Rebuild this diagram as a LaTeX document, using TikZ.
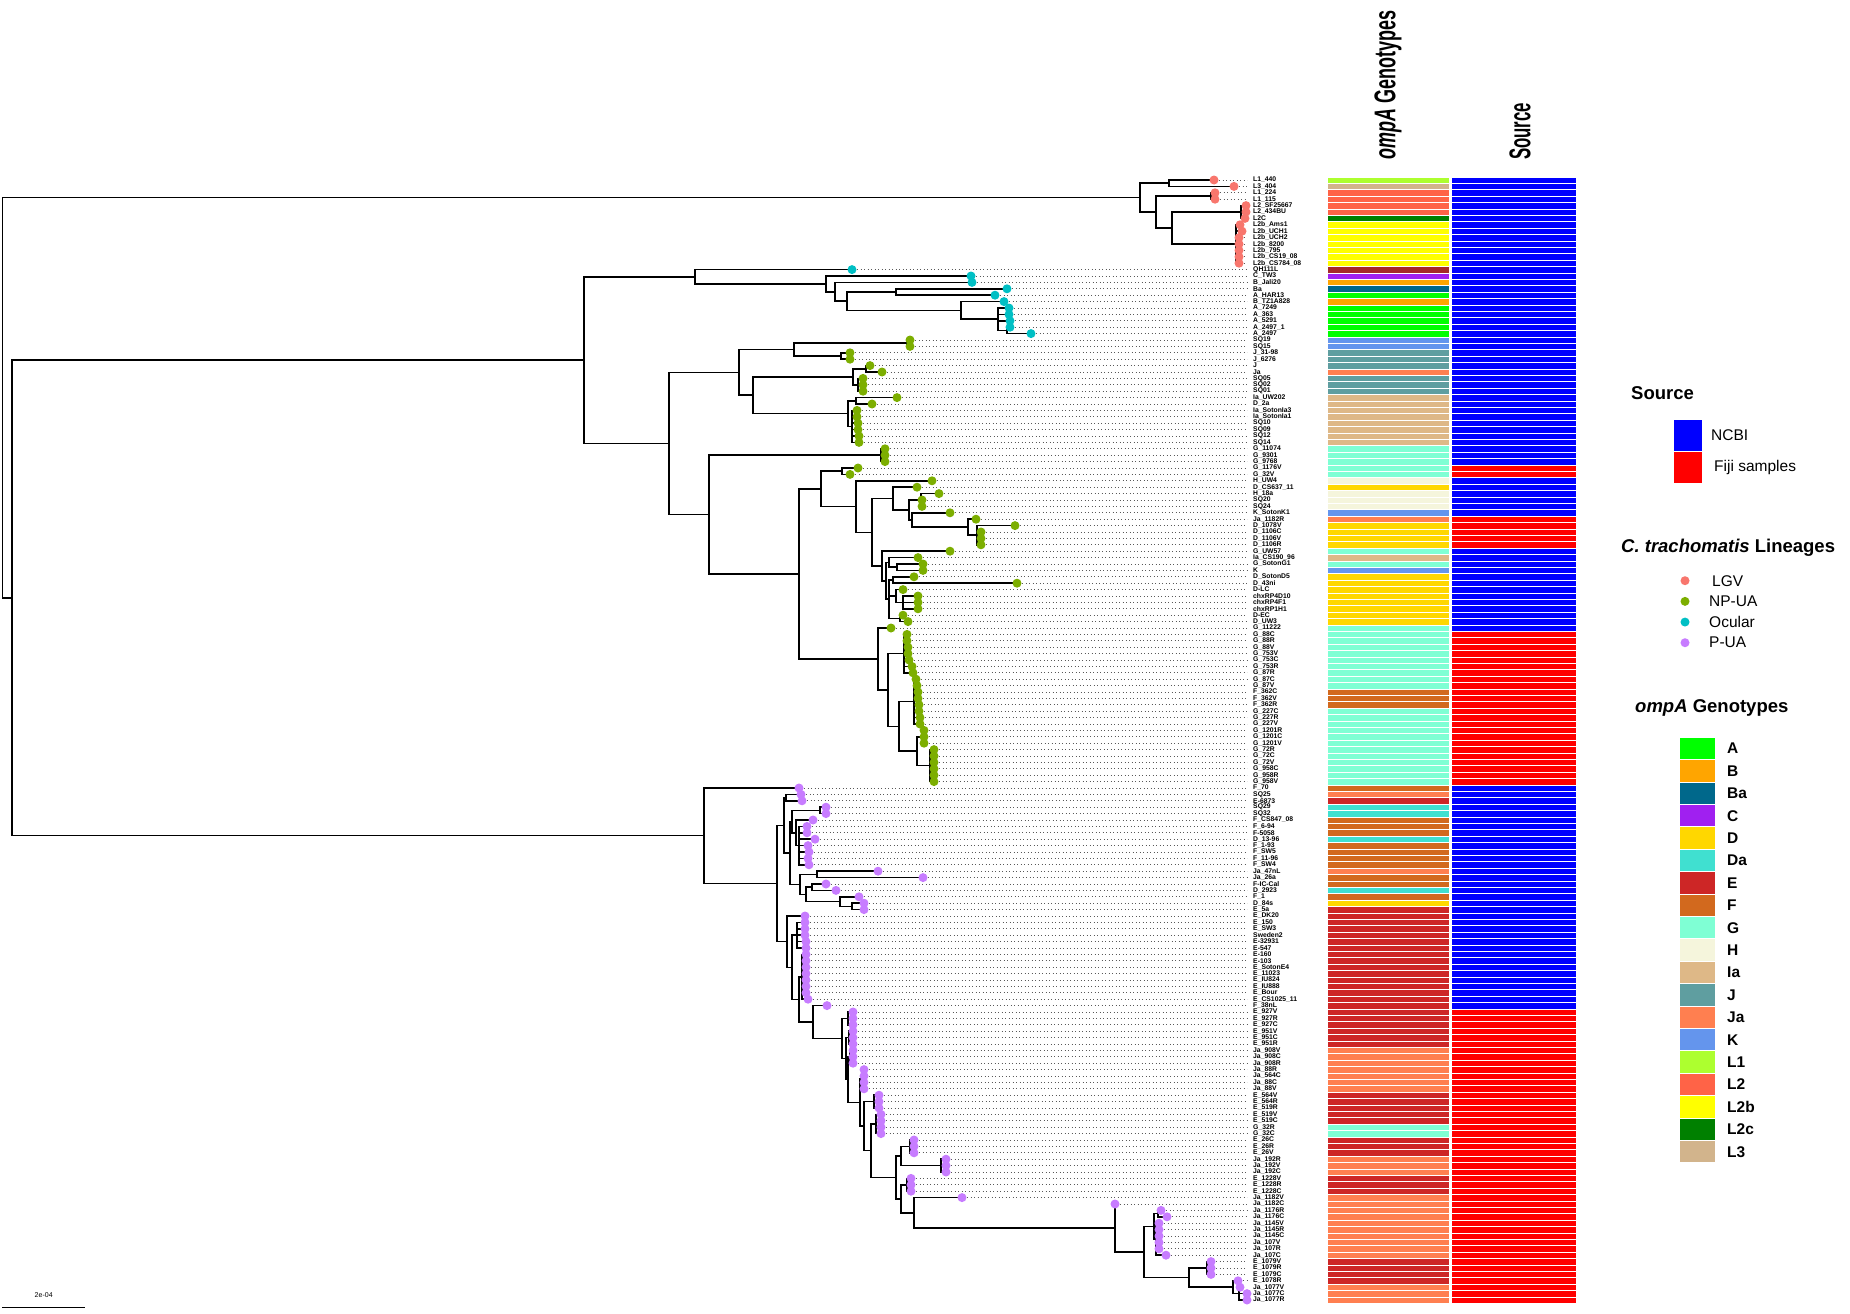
\documentclass[tikz,border=0pt]{standalone}
\usepackage{fontspec}
\setmainfont{Liberation Sans}
\usetikzlibrary{calc}

% ompA genotype colours
\definecolor{gA}{RGB}{0,255,0}
\definecolor{gB}{RGB}{255,165,0}
\definecolor{gBa}{RGB}{0,104,139}
\definecolor{gC}{RGB}{160,32,240}
\definecolor{gD}{RGB}{255,215,0}
\definecolor{gDa}{RGB}{64,224,208}
\definecolor{gE}{RGB}{205,38,38}
\definecolor{gF}{RGB}{210,105,30}
\definecolor{gG}{RGB}{127,255,212}
\definecolor{gH}{RGB}{245,245,220}
\definecolor{gIa}{RGB}{222,184,135}
\definecolor{gJ}{RGB}{95,158,160}
\definecolor{gJa}{RGB}{255,127,80}
\definecolor{gK}{RGB}{100,149,237}
\definecolor{gLone}{RGB}{173,255,47}
\definecolor{gLtwo}{RGB}{255,99,71}
\definecolor{gLtwob}{RGB}{255,255,0}
\definecolor{gLtwoc}{RGB}{0,128,0}
\definecolor{gLthree}{RGB}{210,180,140}
\definecolor{gQ}{RGB}{165,42,42}
% source and lineage colours
\definecolor{srcN}{RGB}{0,0,255}
\definecolor{srcF}{RGB}{255,0,0}
\definecolor{cLGV}{RGB}{248,118,109}
\definecolor{cNP}{RGB}{124,174,0}
\definecolor{cOcu}{RGB}{0,191,196}
\definecolor{cPUA}{RGB}{199,124,255}

\tikzset{
  branch/.style={line width=1.5pt, line cap=rect},
  tipdots/.style={black!65, line width=0.9pt, dash pattern=on 0.9pt off 2.6pt},
  tiplab/.style={inner sep=0pt, anchor=west, font=\fontsize{6.8}{7}\selectfont\bfseries},
  cell/.style={draw=white, line width=0.4pt},
  ttl/.style={inner sep=0pt, anchor=west, font=\fontsize{18.5}{20}\selectfont\bfseries},
  legtxt/.style={inner sep=0pt, anchor=west, font=\fontsize{15.5}{17}\selectfont},
  legbold/.style={inner sep=0pt, anchor=west, font=\fontsize{15.5}{17}\selectfont\bfseries},
  hdr/.style={inner sep=0pt, anchor=west, rotate=90, font=\fontsize{30}{30}\selectfont\bfseries},
}

% clade: name, x, first child, last child
\newcommand\clade[4]{%
  \path ($(#3)!0.5!(#4)$) coordinate (#1mid) (#2,0) coordinate (#1xx);
  \coordinate (#1) at (#1mid -| #1xx);
  \draw[branch] (#3 -| #1) -- (#4 -| #1);
  \draw[branch] (#1 |- #3) -- (#3);
  \draw[branch] (#1 |- #4) -- (#4);
}
% extra child in between
\newcommand\twig[2]{\draw[branch] (#1 |- #2) -- (#2);}

\begin{document}
\begin{tikzpicture}[x=1pt,y=-1pt]
\useasboundingbox (0,0) rectangle (1850,1314);

% tips, labels, heatmap
\foreach \i/\x/\lab/\g/\s in {
1/1214/L1\_440/Lone/N, 2/1234/L3\_404/Lthree/N, 3/1215/L1\_224/Ltwo/N, 4/1215/L1\_115/Ltwo/N,
5/1246/L2\_SF25667/Ltwo/N, 6/1246/L2\_434BU/Ltwo/N, 7/1245/L2C/Ltwoc/N, 8/1240/L2b\_Ams1/Ltwob/N,
9/1242/L2b\_UCH1/Ltwob/N, 10/1239/L2b\_UCH2/Ltwob/N, 11/1239/L2b\_8200/Ltwob/N, 12/1239/L2b\_795/Ltwob/N,
13/1239/L2b\_CS19\_08/Ltwob/N, 14/1239/L2b\_CS784\_08/Ltwob/N, 15/852/QH111L/Q/N, 16/971/C\_TW3/C/N,
17/972/B\_Jali20/B/N, 18/1007/Ba/Ba/N, 19/995/A\_HAR13/A/N, 20/1004/B\_TZ1A828/B/N,
21/1009/A\_7249/A/N, 22/1009/A\_363/A/N, 23/1010/A\_5291/A/N, 24/1010/A\_2497\_1/A/N,
25/1031/A\_2497/A/N, 26/910/SQ19/K/N, 27/910/SQ15/K/N, 28/850/J\_31-98/J/N,
29/850/J\_6276/J/N, 30/870/J/J/N, 31/882/Ja/Ja/N, 32/863/SQ05/J/N,
33/863/SQ02/J/N, 34/863/SQ01/J/N, 35/897/Ia\_UW202/Ia/N, 36/872/D\_2a/Ia/N,
37/857/Ia\_SotonIa3/Ia/N, 38/857/Ia\_SotonIa1/Ia/N, 39/858/SQ10/Ia/N, 40/858/SQ09/Ia/N,
41/859/SQ12/Ia/N, 42/859/SQ14/Ia/N, 43/885/G\_11074/G/N, 44/885/G\_9301/G/N,
45/885/G\_9768/G/N, 46/858/G\_1176V/G/F, 47/850/G\_32V/G/F, 48/932/H\_UW4/H/N,
49/917/D\_CS637\_11/D/N, 50/939/H\_18a/H/N, 51/922/SQ20/H/N, 52/922/SQ24/H/N,
53/950/K\_SotonK1/K/N, 54/976/Ja\_1182R/Ja/F, 55/1015/D\_1078V/D/F, 56/981/D\_1106C/D/F,
57/981/D\_1106V/D/F, 58/981/D\_1106R/D/F, 59/950/G\_UW57/G/N, 60/918/Ia\_CS190\_96/Ia/N,
61/923/G\_SotonG1/G/N, 62/923/K/K/N, 63/914/D\_SotonD5/D/N, 64/1017/D\_43ni/D/N,
65/903/D-LC/D/N, 66/918/chxRP4D10/D/N, 67/918/chxRP4F1/D/N, 68/918/chxRP1H1/D/N,
69/903/D-EC/D/N, 70/908/D\_UW3/D/N, 71/891/G\_11222/G/N, 72/907/G\_88C/G/F,
73/907/G\_88R/G/F, 74/908/G\_88V/G/F, 75/908/G\_753V/G/F, 76/909/G\_753C/G/F,
77/912/G\_753R/G/F, 78/913/G\_87R/G/F, 79/916/G\_87C/G/F, 80/917/G\_87V/G/F,
81/918/F\_362C/F/F, 82/918/F\_362V/F/F, 83/919/F\_362R/F/F, 84/919/G\_227C/G/F,
85/920/G\_227R/G/F, 86/920/G\_227V/G/F, 87/924/G\_1201R/G/F, 88/924/G\_1201C/G/F,
89/924/G\_1201V/G/F, 90/934/G\_72R/G/F, 91/934/G\_72C/G/F, 92/934/G\_72V/G/F,
93/934/G\_958C/G/F, 94/934/G\_958R/G/F, 95/934/G\_958V/G/F, 96/799/F\_70/F/N,
97/801/SQ25/Ja/N, 98/802/E-6873/E/N, 99/826/SQ29/Da/N, 100/826/SQ32/Da/N,
101/813/F\_CS847\_08/F/N, 102/807/F\_6-94/F/N, 103/807/F-5058/F/N, 104/815/D\_13-96/Da/N,
105/808/F\_1-93/F/N, 106/809/F\_SW5/F/N, 107/808/F\_11-96/F/N, 108/809/F\_SW4/F/N,
109/878/Ja\_47nL/Ja/N, 110/923/Ja\_26a/F/N, 111/826/F-IC-Cal/F/N, 112/836/D\_2923/Da/N,
113/859/F\_1/F/N, 114/864/D\_84s/D/N, 115/864/E\_5a/E/N, 116/805/E\_DK20/E/N,
117/805/E\_150/E/N, 118/805/E\_SW3/E/N, 119/805/Sweden2/E/N, 120/806/E-32931/E/N,
121/806/E-547/E/N, 122/806/E-160/E/N, 123/806/E-103/E/N, 124/806/E\_SotonE4/E/N,
125/806/E\_11023/E/N, 126/806/E\_IU824/E/N, 127/806/E\_IU888/E/N, 128/806/E\_Bour/E/N,
129/808/E\_CS1025\_11/E/N, 130/827/F\_38nL/E/N, 131/853/E\_927V/E/F, 132/853/E\_927R/E/F,
133/853/E\_927C/E/F, 134/853/E\_951V/E/F, 135/853/E\_951C/E/F, 136/853/E\_951R/E/F,
137/853/Ja\_908V/Ja/F, 138/853/Ja\_908C/Ja/F, 139/853/Ja\_908R/Ja/F, 140/864/Ja\_88R/Ja/F,
141/864/Ja\_564C/Ja/F, 142/864/Ja\_88C/Ja/F, 143/864/Ja\_88V/Ja/F, 144/879/E\_564V/E/F,
145/879/E\_564R/E/F, 146/879/E\_519R/E/F, 147/881/E\_519V/E/F, 148/881/E\_519C/E/F,
149/881/G\_32R/G/F, 150/881/G\_32C/G/F, 151/914/E\_26C/E/F, 152/914/E\_26R/E/F,
153/914/E\_26V/E/F, 154/946/Ja\_192R/Ja/F, 155/946/Ja\_192V/Ja/F, 156/946/Ja\_192C/Ja/F,
157/911/E\_1228V/E/F, 158/911/E\_1228R/E/F, 159/911/E\_1228C/E/F, 160/962/Ja\_1182V/Ja/F,
161/1115/Ja\_1182C/Ja/F, 162/1161/Ja\_1176R/Ja/F, 163/1167/Ja\_1176C/Ja/F, 164/1159/Ja\_1145V/Ja/F,
165/1159/Ja\_1145R/Ja/F, 166/1159/Ja\_1145C/Ja/F, 167/1159/Ja\_107V/Ja/F, 168/1159/Ja\_107R/Ja/F,
169/1166/Ja\_107C/Ja/F, 170/1211/E\_1079V/E/F, 171/1211/E\_1079R/E/F, 172/1211/E\_1079C/E/F,
173/1238/E\_1078R/E/F, 174/1240/Ja\_1077V/Ja/F, 175/1247/Ja\_1077C/Ja/F, 176/1247/Ja\_1077R/Ja/F}{
  \pgfmathsetmacro\yy{180+(\i-1)*6.4}
  \pgfmathsetmacro\ya{\yy-3.2}
  \pgfmathsetmacro\yb{\yy+3.2}
  \coordinate (t\i) at (\x,\yy);
  \ifnum\x<1240 \draw[tipdots] ({\x+5},\yy) -- (1247,\yy); \fi
  \node[tiplab] (lab\i) at (1253,\yy) {\lab};
  \path[cell, fill=g\g] (1327,\ya) rectangle (1449.5,\yb);
  \path[cell, fill=src\s] (1451.5,\ya) rectangle (1576,\yb);
}

% LGV
\clade{la}{1169}{t1}{t2}
\clade{lbi}{1211}{t3}{t4}
\clade{lci}{1241}{t5}{t7} \twig{lci}{t6}
\clade{lcii}{1236}{t8}{t14}
\foreach \k in {9,...,13} {\twig{lcii}{t\k}}
\clade{lc}{1172}{lci}{lcii}
\clade{lb}{1156}{lbi}{lc}
\clade{lgv}{1140}{la}{lb}

% Ocular
\clade{of}{1007}{t24}{t25}
\clade{oe}{998}{t21}{of} \twig{oe}{t22} \twig{oe}{t23}
\clade{od}{961}{t20}{oe}
\clade{oc}{896}{t18}{t19}
\clade{obii}{847}{oc}{od}
\clade{obi}{835}{t17}{obii}
\clade{ob}{826}{t16}{obi}
\clade{ocu}{695}{t15}{ob}

% NP-UA
\clade{na}{907}{t26}{t27}
\clade{nb}{841}{t28}{t29}
\clade{nab}{794}{na}{nb}
\clade{nci}{866}{t30}{t31}
\clade{ncii}{858}{t32}{t34} \twig{ncii}{t33}
\clade{nc}{853}{nci}{ncii}
\clade{ndi}{856}{t35}{t36}
\clade{ndii}{852}{t37}{t42}
\foreach \k in {38,...,41} {\twig{ndii}{t\k}}
\clade{nd}{848}{ndi}{ndii}
\clade{ncd}{753}{nc}{nd}
\clade{nup}{739}{nab}{ncd}
\clade{ng}{881}{t43}{t45} \twig{ng}{t44}
\clade{nhi}{842}{t46}{t47}
\clade{nki}{921}{t50}{t52} \twig{nki}{t51}
\clade{nmii}{977}{t55}{t58} \twig{nmii}{t56} \twig{nmii}{t57}
\clade{nm}{968}{t54}{nmii}
\clade{nl}{912}{t53}{nm}
\clade{nk}{909}{nki}{nl}
\clade{nj}{893}{t49}{nk}
\clade{np}{897}{t61}{t62}
\clade{nyi}{889}{t60}{np}
\clade{nq}{893}{t63}{t64}
\clade{nr}{903}{t66}{t68} \twig{nr}{t67}
\clade{ns}{896}{t65}{nr}
\clade{nu}{900}{t69}{t70}
\clade{nt}{889}{nq}{nu} \twig{nt}{ns}
\clade{ny}{886}{nyi}{nt}
\clade{nx}{882}{t59}{ny}
\clade{ni}{872}{nj}{nx}
\clade{nh}{856}{t48}{ni}
\clade{nho}{821}{nhi}{nh}
\clade{ga}{904}{t72}{t78}
\foreach \k in {73,...,77} {\twig{ga}{t\k}}
\clade{gb}{914}{t79}{t86}
\foreach \k in {80,...,85} {\twig{gb}{t\k}}
\clade{gc}{922}{t87}{t89} \twig{gc}{t88}
\clade{gd}{930}{t90}{t95}
\foreach \k in {91,...,94} {\twig{gd}{t\k}}
\clade{ge}{917}{gc}{gd}
\clade{gf}{899}{gb}{ge}
\clade{gg}{888}{ga}{gf}
\clade{gh}{878}{t71}{gg}
\clade{nloii}{799}{nho}{gh}
\clade{nlo}{709}{ng}{nloii}
\clade{npua}{669}{nup}{nlo}
\clade{ntop}{584}{ocu}{npua}

% P-UA
\clade{pa}{786}{t97}{t98}
\clade{pb}{820}{t99}{t100}
\clade{pe}{799}{t102}{t108}
\foreach \k in {103,...,107} {\twig{pe}{t\k}}
\clade{pd}{796}{t101}{pe}
\clade{pc}{792}{pb}{pd}
\clade{pf}{817}{t109}{t110}
\clade{pg}{812}{t111}{t112}
\clade{phii}{852}{t114}{t115}
\clade{ph}{840}{t113}{phii}
\clade{pgh}{806}{pg}{ph}
\clade{pfgh}{800}{pf}{pgh}
\clade{pcf}{790}{pc}{pfgh}
\clade{pu}{784}{pa}{pcf}
\clade{qa}{797}{t117}{t121}
\foreach \k in {118,...,120} {\twig{qa}{t\k}}
\clade{qb}{802}{t122}{t129}
\foreach \k in {123,...,128} {\twig{qb}{t\k}}
\clade{ra}{848}{t131}{t133} \twig{ra}{t132}
\clade{rb}{849}{t134}{t136} \twig{rb}{t135}
\clade{rc}{850}{t137}{t139} \twig{rc}{t138}
\clade{rd}{862}{t140}{t143} \twig{rd}{t141} \twig{rd}{t142}
\clade{re}{874}{t144}{t146} \twig{re}{t145}
\clade{rf}{876}{t147}{t150} \twig{rf}{t148} \twig{rf}{t149}
\clade{rg}{910}{t151}{t153} \twig{rg}{t152}
\clade{rh}{941}{t154}{t156} \twig{rh}{t155}
\clade{ri}{907}{t157}{t159} \twig{ri}{t158}
\clade{rj}{1158}{t162}{t163}
\clade{rk}{1156}{t164}{t169}
\foreach \k in {165,...,168} {\twig{rk}{t\k}}
\clade{rl}{1207}{t170}{t172} \twig{rl}{t171}
\clade{rm}{1239}{t174}{t176} \twig{rm}{t175}
\clade{qxviii}{1233}{t173}{rm}
\clade{qxvii}{1189}{rl}{qxviii}
\clade{qxvia}{1154}{rj}{rk}
\clade{qxvi}{1144}{qxvia}{qxvii}
\clade{qxv}{1115}{t161}{qxvi}
\clade{qxiv}{914}{t160}{qxv}
\clade{qxiii}{901}{ri}{qxiv}
\clade{qxiia}{901}{rg}{rh}
\clade{qxii}{896}{qxiia}{qxiii}
\clade{qx}{871}{rf}{qxii}
\clade{qix}{864}{re}{qx}
\clade{qviii}{860}{rd}{qix}
\clade{qvii}{848}{rc}{qviii}
\clade{qvi}{846}{rb}{qvii}
\clade{qv}{842}{ra}{qvi}
\clade{qiv}{813}{t130}{qv}
\clade{qiii}{799}{qb}{qiv}
\clade{qii}{792}{qa}{qiii}
\clade{qi}{787}{t116}{qii}
\clade{pmid}{777}{pu}{qi}
\clade{pua}{704}{t96}{pmid}

% root
\clade{rootb}{12}{ntop}{pua}
\clade{root}{2.4}{lgv}{rootb}

% tip points
\foreach \i in {1,...,176}{
  \ifnum\i<15 \def\lc{cLGV}\else\ifnum\i<26 \def\lc{cOcu}\else\ifnum\i<96 \def\lc{cNP}\else\def\lc{cPUA}\fi\fi\fi
  \fill[\lc] (t\i) circle[radius=4.5pt];
}

% column headers
\node[hdr] (hompa) at (1388,160) {\scalebox{0.6}[1]{\textit{ompA} Genotypes}};
\node[hdr] (hsrc) at (1520,160) {\scalebox{0.56}[1]{Source}};

% scale bar
\draw[line width=1pt] (2.4,1307) coordinate (sba) -- (85,1307) coordinate (sbb);
\node[font=\fontsize{7}{8}\selectfont, inner sep=0pt] (sbl) at (43.7,1295) {2e-04};

% legend: source
\node[ttl] (lsrc) at (1631,393) {Source};
\fill[srcN] (1674,420) rectangle (1702,451);
\fill[srcF] (1674,452) rectangle (1702,483);
\node[legtxt] (lncbi) at (1711,435.6) {NCBI};
\node[legtxt] (lfiji) at (1714,467) {Fiji samples};

% legend: lineages
\node[ttl] (llin) at (1621,548) {{\itshape C. trachomatis} Lineages};
\foreach \c/\nm/\lx [count=\k] in {cLGV/LGV/1712, cNP/NP-UA/1709, cOcu/Ocular/1709, cPUA/P-UA/1709}{
  \pgfmathsetmacro\ly{580.7+(\k-1)*20.67}
  \fill[\c] (1685,\ly) circle[radius=4.5pt];
  \node[legtxt] (lin\k) at (\lx,\ly) {\nm};
}

% legend: genotypes
\node[ttl] (lgen) at (1635,708) {\textit{ompA} Genotypes};
\foreach \g/\gname [count=\k] in {A/A, B/B, Ba/Ba, C/C, D/D, Da/Da, E/E, F/F, G/G, H/H, Ia/Ia, J/J, Ja/Ja, K/K, Lone/L1, Ltwo/L2, Ltwob/L2b, Ltwoc/L2c, Lthree/L3}{
  \pgfmathsetmacro\ya{737.8+(\k-1)*22.4}
  \pgfmathsetmacro\yb{\ya+21.4}
  \pgfmathsetmacro\ym{\ya+10.7}
  \fill[g\g] (1680,\ya) rectangle (1715,\yb);
  \node[legbold] (gl\k) at (1727,\ym) {\gname};
}
\end{tikzpicture}
\end{document}
